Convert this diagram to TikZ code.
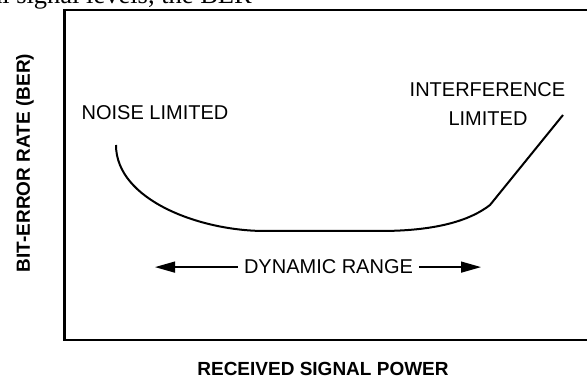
\documentclass[tikz,border=0pt]{standalone}
\usepackage{fontspec}
\setmainfont{Liberation Sans}
\newfontfamily\serifcap{Liberation Serif}
\usetikzlibrary{arrows.meta}
\begin{document}
\begin{tikzpicture}[x=1pt,y=-1pt,
  lbl/.style={font=\fontsize{20}{24}\selectfont, inner sep=0pt},
  axlbl/.style={font=\fontsize{19}{22}\selectfont\bfseries, inner sep=0pt},
  frame/.style={line width=2.6pt},
  curve/.style={line width=2pt},
  arr/.style={line width=1.4pt, -{Triangle[length=20pt,width=11pt]}}]
\useasboundingbox (0,0) rectangle (587,379);
\clip (0,0) rectangle (587,379);
\node[anchor=base east, inner sep=0pt, font=\serifcap\fontsize{26.5}{30}\selectfont] (cap) at (252,4) {al signal levels, the BER};
% frame
\draw[frame] (600,10) -- (64.5,10) -- (64.5,340) -- (600,340);
% axis labels
\node[axlbl, rotate=90] (ylab) at (25,163) {BIT-ERROR RATE (BER)};
\node[axlbl, anchor=base] (xlab) at (323,376) {RECEIVED SIGNAL POWER};
% curve
\draw[curve] (116,145) .. controls (116,200) and (200,231) .. (265,231)
  -- (380,231) .. controls (440,231) and (472,219) .. (490,205) -- (563,115);
% labels
\node[lbl, anchor=base] (noise) at (155,120) {NOISE LIMITED};
\node[lbl, anchor=base] (intf) at (487.5,97) {INTERFERENCE};
\node[lbl, anchor=base] (intf2) at (488,126) {LIMITED};
% dynamic range
\node[lbl, anchor=base, inner xsep=6pt] (dyn) at (328.5,274) {DYNAMIC RANGE};
\coordinate (dl) at (155,267);
\coordinate (dr) at (481,267);
\draw[arr] (dyn.west) -- (dyn.west -| dl);
\draw[arr] (dyn.east) -- (dyn.east -| dr);
\end{tikzpicture}
\end{document}
